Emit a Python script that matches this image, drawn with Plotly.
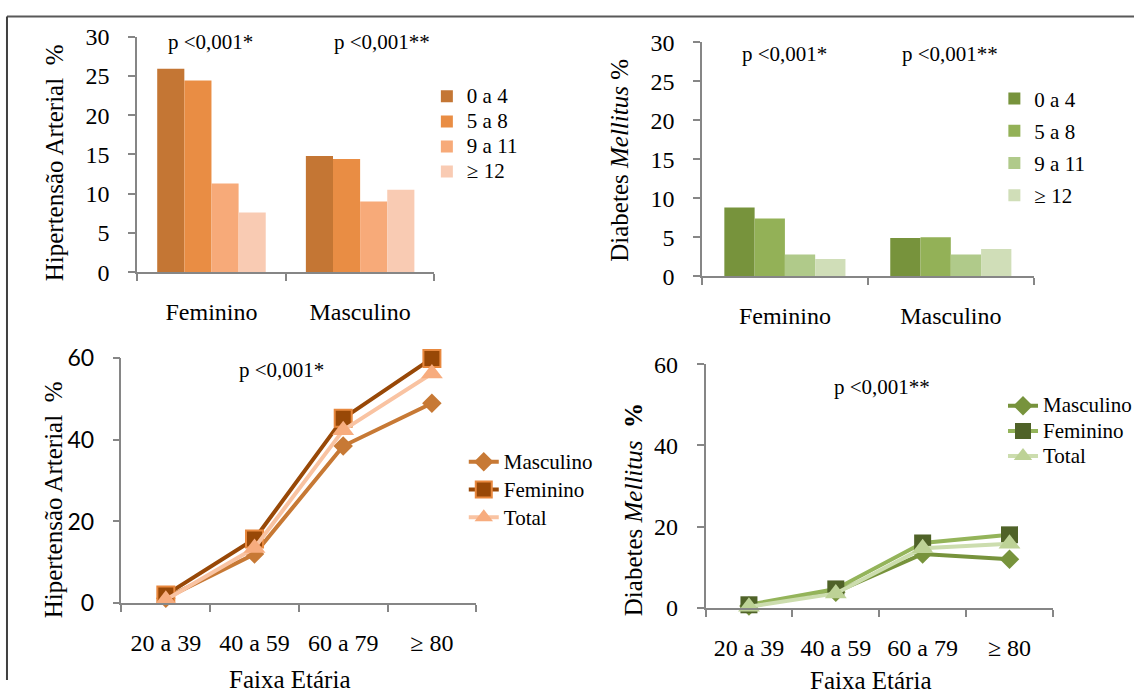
import plotly.graph_objects as go

W, H = 1137, 693

# ---------------- data ----------------
sexes = ["Feminino", "Masculino"]
escolaridade = ["0 a 4", "5 a 8", "9 a 11", "≥ 12"]
ha_feminino = [25.9, 24.4, 11.3, 7.6]
ha_masculino = [14.8, 14.4, 9.0, 10.5]
dm_feminino = [8.8, 7.4, 2.8, 2.2]
dm_masculino = [4.9, 5.0, 2.8, 3.5]

faixas = ["20 a 39", "40 a 59", "60 a 79", "≥ 80"]
ha_linha_masculino = [1.2, 12.0, 38.5, 49.0]
ha_linha_feminino = [2.0, 15.7, 45.3, 60.0]
ha_linha_total = [0.8, 13.5, 42.4, 56.3]
dm_linha_masculino = [0.5, 3.9, 13.3, 12.0]
dm_linha_feminino = [0.8, 4.7, 16.0, 18.0]
dm_linha_total = [0.3, 3.6, 14.7, 15.8]

orange_bars = ["#C47634", "#E98D44", "#F7AA79", "#F9CBB3"]
green_bars = ["#77933C", "#93B157", "#B0CA8A", "#D0DEB8"]

SERIF = "Liberation Serif"
SANS = "Lato"


def X(p):
    return p / W


def Q(p):
    # vertical layout position (px from top)
    return 369 + (p - 369) / 0.961


def Y(p):
    return 1 - Q(p) / H


def Yraw(q):
    return 1 - q / H


def big(s, size=21):
    return '<span style="font-size:%dpx">%s</span>' % (size, s)


fig = go.Figure()

# ---- top-left bars ----
for i, lab in enumerate(escolaridade):
    fig.add_trace(go.Bar(
        x=sexes, y=[ha_feminino[i], ha_masculino[i]], name=big(lab),
        marker=dict(color=orange_bars[i], line=dict(width=0)),
        xaxis="x", yaxis="y", legend="legend"))

# ---- top-right bars ----
for i, lab in enumerate(escolaridade):
    fig.add_trace(go.Bar(
        x=sexes, y=[dm_feminino[i], dm_masculino[i]], name=lab,
        marker=dict(color=green_bars[i], line=dict(width=0)),
        xaxis="x2", yaxis="y2", legend="legend2", legendgroup="b" + str(i)))

# ---- bottom-left lines ----
fig.add_trace(go.Scatter(
    x=faixas, y=ha_linha_masculino, name=big("Masculino"), mode="lines+markers",
    line=dict(color="#C77935", width=4),
    marker=dict(symbol="diamond", size=15, color="#C77935"),
    cliponaxis=False, xaxis="x3", yaxis="y3", legend="legend3"))
fig.add_trace(go.Scatter(
    x=faixas, y=ha_linha_feminino, name=big("Feminino"), mode="lines+markers",
    line=dict(color="#984807", width=4),
    marker=dict(symbol="square", size=17, color="#984807",
                line=dict(color="#E8883E", width=2)),
    cliponaxis=False, xaxis="x3", yaxis="y3", legend="legend3"))
fig.add_trace(go.Scatter(
    x=faixas, y=ha_linha_total, name=big("Total"), mode="lines+markers",
    line=dict(color="#F9C3A2", width=4),
    marker=dict(symbol="triangle-up", size=19, color="#F7AC7E"),
    cliponaxis=False, xaxis="x3", yaxis="y3", legend="legend3"))

# ---- bottom-right lines ----
fig.add_trace(go.Scatter(
    x=faixas, y=dm_linha_masculino, name=big("Masculino"), mode="lines+markers",
    line=dict(color="#77933C", width=4),
    marker=dict(symbol="diamond", size=15, color="#77933C"),
    cliponaxis=False, xaxis="x4", yaxis="y4", legend="legend4"))
fig.add_trace(go.Scatter(
    x=faixas, y=dm_linha_feminino, name=big("Feminino"), mode="lines+markers",
    line=dict(color="#94B45A", width=4),
    marker=dict(symbol="square", size=17, color="#4F6228"),
    cliponaxis=False, xaxis="x4", yaxis="y4", legend="legend4"))
fig.add_trace(go.Scatter(
    x=faixas, y=dm_linha_total, name=big("Total"), mode="lines+markers",
    line=dict(color="#CCDDAE", width=4),
    marker=dict(symbol="triangle-up", size=19, color="#BDD296"),
    cliponaxis=False, xaxis="x4", yaxis="y4", legend="legend4"))

AX = "#868686"


def xax(domain, anchor, font_size=24):
    return dict(domain=domain, anchor=anchor, type="category",
                showline=True, linecolor=AX, linewidth=1.5,
                ticks="outside", ticklen=7, tickcolor=AX, tickwidth=1.5,
                tickson="boundaries", showgrid=False, zeroline=False,
                tickfont=dict(family=SERIF, size=font_size, color="#000000"),
                ticklabelstandoff=17, fixedrange=True)


def yax(domain, anchor, rng, dtick, family=SERIF, size=24, standoff=14):
    return dict(domain=domain, anchor=anchor, range=rng, dtick=dtick,
                showline=True, linecolor=AX, linewidth=1.5,
                ticks="outside", ticklen=7, tickcolor=AX, tickwidth=1.5,
                showgrid=False, zeroline=False,
                tickfont=dict(family=family, size=size, color="#000000"),
                ticklabelstandoff=standoff, fixedrange=True)


def legend_style(size):
    return dict(bgcolor="rgba(0,0,0,0)", borderwidth=0,
                font=dict(family=SERIF, size=size, color="#000000"),
                xanchor="left", yanchor="top", xref="paper", yref="paper",
                itemclick=False, itemdoubleclick=False)


def legend_top(center_ref, size):
    h = 1.3 * size + 3
    return Yraw(Q(center_ref) - h / 2 - 7)


fig.update_layout(
    width=W, height=H, margin=dict(l=0, r=0, t=0, b=0, pad=0),
    paper_bgcolor="white", plot_bgcolor="white",
    barmode="group",
    xaxis=dict(xax([X(137.5), X(435.6)], "y")),
    yaxis=dict(yax([Y(272), Y(36)], "x", [0, 30], 5)),
    xaxis2=dict(xax([X(703.8), X(1036.5)], "y2")),
    yaxis2=dict(yax([Y(276), Y(41.7)], "x2", [0, 30], 5)),
    xaxis3=dict(xax([X(121.8), X(477.5)], "y3"), range=[-0.5, 3.5]),
    yaxis3=dict(yax([Y(603.3), Y(358.3)], "x3", [0, 60], 20, family=SANS, size=23)),
    xaxis4=dict(xax([X(707.4), X(1055.7)], "y4"), range=[-0.5, 3.5]),
    yaxis4=dict(yax([Y(608.3), Y(364)], "x4", [0, 60], 20)),
    legend=dict(legend_style(17), x=X(428), y=legend_top(97, 17)),
    legend2=dict(legend_style(21), x=X(997), y=legend_top(99, 21), tracegroupgap=2),
    legend3=dict(legend_style(19), x=X(465), y=legend_top(463, 19)),
    legend4=dict(legend_style(17), x=X(1006), y=legend_top(407, 17)),
)
fig.update_layout(bargap=0.27, bargroupgap=0)

ann_font = dict(family=SERIF, size=21, color="#000000")
title_font = dict(family=SERIF, size=25, color="#000000")
annotations = [
    dict(text="p <0,001*", x=X(211), y=Y(41)),
    dict(text="p <0,001**", x=X(383), y=Y(41)),
    dict(text="p <0,001*", x=X(787), y=Y(53)),
    dict(text="p <0,001**", x=X(953), y=Y(53)),
    dict(text="p <0,001*", x=X(282), y=Y(370)),
    dict(text="p <0,001**", x=X(884), y=Y(387)),
]
for a in annotations:
    fig.add_annotation(xref="paper", yref="paper", showarrow=False,
                       xanchor="center", yanchor="middle", font=ann_font, **a)

titles = [
    dict(text="Hipertensão Arterial  %", x=X(55), y=Y(162), textangle=-90),
    dict(text="Diabetes <i>Mellitus</i> %", x=X(621), y=Y(160), textangle=-90),
    dict(text="Hipertensão Arterial  %", x=X(54.5), y=Y(500), textangle=-90),
    dict(text="Diabetes <i>Mellitus</i>  <b>%</b>", x=X(636), y=Y(510), textangle=-90),
    dict(text="Faixa Etária", x=X(290), y=Yraw(692), textangle=0),
    dict(text="Faixa Etária", x=X(873), y=Yraw(693), textangle=0),
]
for t in titles:
    fig.add_annotation(xref="paper", yref="paper", showarrow=False,
                       xanchor="center", yanchor="middle", font=title_font, **t)

# outer frame (top and left edges visible)
fig.add_shape(type="line", xref="paper", yref="paper",
              x0=X(7), x1=X(1137), y0=Yraw(1.5), y1=Yraw(1.5),
              line=dict(color="#595959", width=2))
fig.add_shape(type="line", xref="paper", yref="paper",
              x0=X(7), x1=X(7), y0=Yraw(1.5), y1=Yraw(693),
              line=dict(color="#404040", width=2))

fig.write_html(
    "out.html",
    config={"displayModeBar": False},
    post_script=(
        "document.documentElement.style.margin='0px';"
        "document.body.style.margin='0px';"
        "document.body.style.overflow='hidden';"
        "document.documentElement.style.overflow='hidden';"
        "var gd=document.getElementsByClassName('plotly-graph-div')[0];"
        "gd.style.position='fixed';gd.style.top='0px';gd.style.left='0px';"
    ),
)
